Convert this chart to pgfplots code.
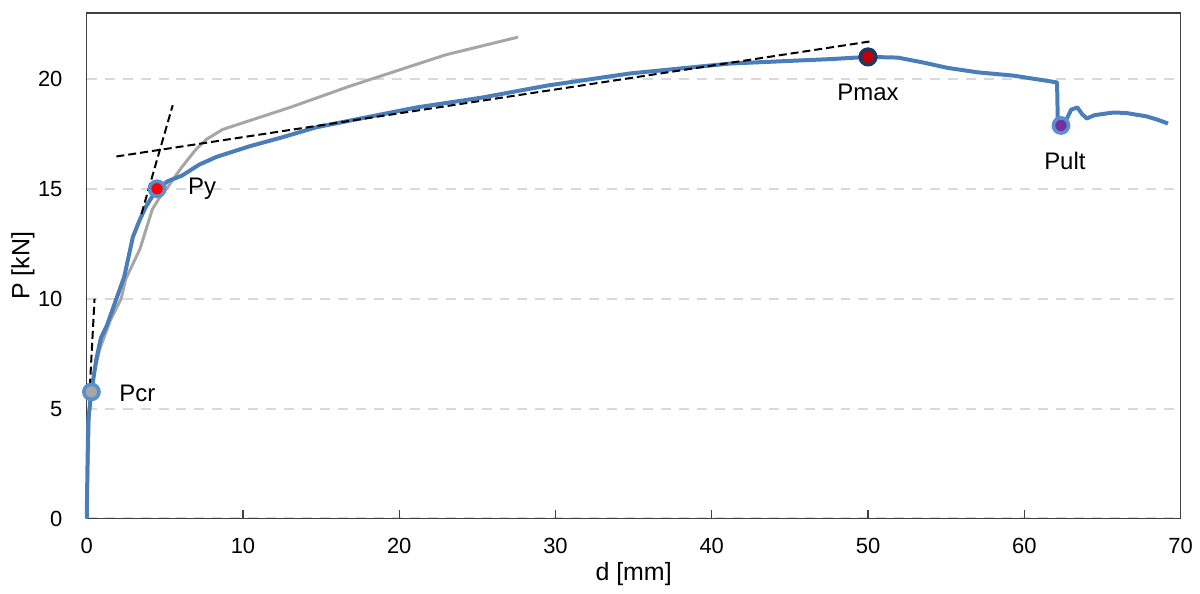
\documentclass[border=0pt]{standalone}
\usepackage{fontspec}
\setmainfont{Liberation Sans}
\usepackage{pgfplots}
\pgfplotsset{compat=1.18}

\definecolor{curveblue}{RGB}{74,126,187}
\definecolor{ringblue}{RGB}{91,142,205}
\definecolor{refgray}{RGB}{166,166,166}
\definecolor{gridgray}{RGB}{217,217,217}
\definecolor{navy}{RGB}{31,56,100}
\definecolor{darkred}{RGB}{192,0,0}
\definecolor{purp}{RGB}{112,48,160}

\begin{document}
\begin{tikzpicture}
\fontsize{11}{13}\selectfont
% fix page size 600pt x 294pt around the axis box
\path (-43.5pt,-34pt) rectangle (556.5pt,260pt);
\begin{axis}[
    at={(0,0)}, anchor=south west,
    scale only axis,
    width=548.5pt, height=253.5pt,
    xmin=0, xmax=70, ymin=0, ymax=23,
    xtick={0,10,...,70}, ytick={0,5,...,20},
    /pgf/number format/assume math mode=true,
    tick label style={font=\fontsize{11}{13}\selectfont},
    label style={font=\fontsize{12.5}{14}\selectfont},
    xtick pos=bottom, ytick pos=left,
    tick align=inside,
    major tick length=4pt,
    xtick style={black!75, line width=0.6pt},
    ytick style={draw=none},
    xticklabel style={anchor=center, yshift=-14pt},
    yticklabel style={anchor=east, inner sep=0pt, xshift=-12pt},
    axis line style={black!75, line width=0.7pt},
    ymajorgrids,
    major grid style={gridgray, line width=1pt, dash pattern=on 5pt off 4pt},
    xlabel={d [mm]}, ylabel={P [kN]},
    xlabel style={at={(axis description cs:0.5,0)}, anchor=center, yshift=-28pt},
    ylabel style={at={(axis description cs:0,0.5)}, anchor=center, yshift=32pt},
    clip=false,
]
% reference curve (gray)
\addplot[refgray, line width=1.5pt] coordinates {
(0,0) (0.1,3) (0.2,5.5) (0.5,6.7) (0.83,7.7) (1.5,9.0) (2.2,10.0) (2.5,10.9)
(3.4,12.25) (4.2,14.07) (4.66,14.6) (5.1,15.0) (6.1,16.0) (7.0,16.8) (7.66,17.25)
(8.7,17.7) (13.0,18.7) (16.8,19.66) (21.7,20.8) (23,21.1) (27.6,21.9)
};
% test curve (blue)
\addplot[curveblue, line width=2pt, line join=round] coordinates {
(0,0) (0.05,2.5) (0.1,4.5) (0.3,5.76) (0.6,7.2) (0.9,8.2) (1.3,8.8) (1.9,10.0)
(2.4,11.0) (2.95,12.8) (3.4,13.6) (3.8,14.2) (4.5,15.0) (5.2,15.35) (6.1,15.6)
(7.2,16.1) (8.3,16.45) (10.4,16.93) (12.5,17.34) (14.7,17.8) (17.9,18.25)
(21.1,18.7) (25.3,19.15) (29.5,19.7) (34.8,20.25) (41.2,20.7) (47.6,20.9)
(50,21.0) (51.9,20.97) (53.5,20.75) (55.1,20.5) (57,20.3) (59.3,20.15)
(62.1,19.84) (62.15,17.9) (62.6,18.0) (63.0,18.6) (63.4,18.7) (63.7,18.4)
(64.0,18.2) (64.5,18.35) (65.7,18.47) (66.5,18.45) (67.8,18.3) (68.5,18.15)
(69.2,17.97)
};
% tangent lines
\addplot[black, line width=1pt, dash pattern=on 4pt off 2pt] coordinates {(0.2,6.0) (0.5,10.0)};
\addplot[black, line width=1pt, dash pattern=on 4pt off 2pt] coordinates {(3.5,13.85) (5.5,18.8)};
\addplot[black, line width=1pt, dash pattern=on 4pt off 2pt] coordinates {(1.9,16.47) (50.1,21.7)};
% characteristic points
\addplot[only marks, mark=*, mark size=3.8pt, mark options={draw=ringblue, fill=refgray, line width=1.8pt}] coordinates {(0.3,5.76)};
\addplot[only marks, mark=*, mark size=3.8pt, mark options={draw=ringblue, fill=red, line width=1.8pt}] coordinates {(4.5,15.0)};
\addplot[only marks, mark=*, mark size=3.9pt, mark options={draw=navy, fill=darkred, line width=1.8pt}] coordinates {(50.0,21.0)};
\addplot[only marks, mark=*, mark size=3.8pt, mark options={draw=ringblue, fill=purp, line width=1.8pt}] coordinates {(62.35,17.88)};
\begin{scope}[font=\fontsize{12}{14}\selectfont]
\node[anchor=west] at (axis cs:1.6,5.7) {Pcr};
\node[anchor=west] at (axis cs:6.0,15.0) {Py};
\node at (axis cs:50,19.4) {Pmax};
\node at (axis cs:62.6,16.25) {Pult};
\end{scope}
\end{axis}
\end{tikzpicture}
\end{document}
